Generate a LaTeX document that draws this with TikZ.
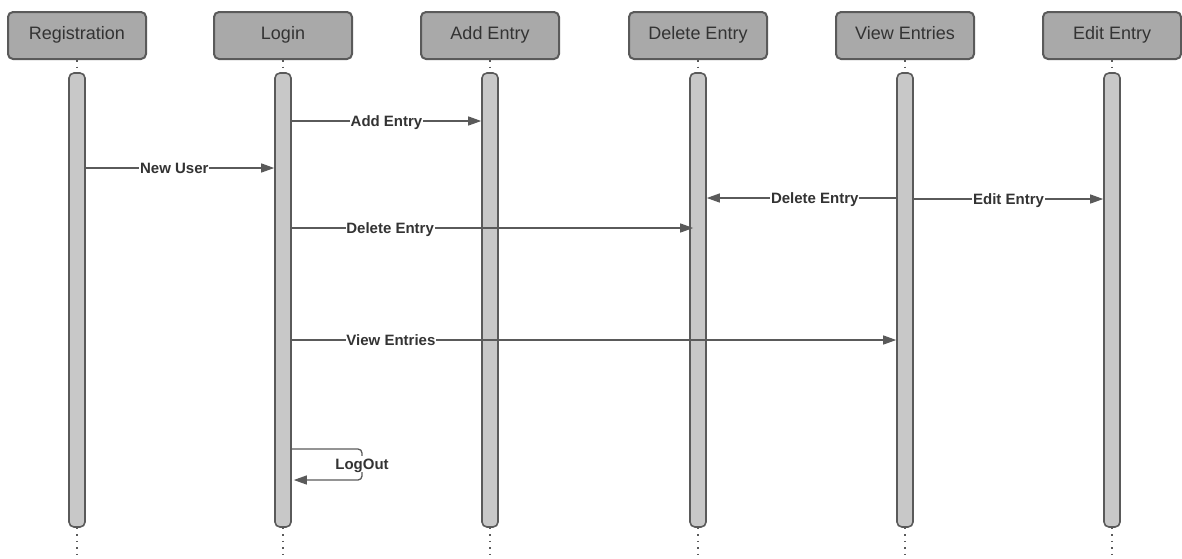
\documentclass[tikz,border=0pt]{standalone}
\usepackage{fontspec}
\setmainfont{Liberation Sans}
\usetikzlibrary{arrows.meta}
\definecolor{hdrfill}{HTML}{A9A9A9}
\definecolor{edge}{HTML}{5A5A5A}
\definecolor{barfill}{HTML}{C8C8C8}
\definecolor{txt}{HTML}{333333}
\tikzset{
  hdr/.style={draw=edge, line width=2pt, fill=hdrfill, rounded corners=5pt,
    minimum width=138pt, minimum height=47pt, inner sep=0pt,
    text height=12.5pt, text depth=3.8pt,
    font=\fontsize{18}{21}\selectfont, text=txt},
  actbar/.style={draw=edge, line width=1.6pt, fill=barfill, rounded corners=5pt,
    minimum width=16pt, minimum height=454pt, inner sep=0pt},
  life/.style={draw=edge, line width=1.2pt, dash pattern=on 1.5pt off 5pt},
  msg/.style={draw=edge, line width=1.3pt, -{Triangle[length=13pt,width=9pt]}},
  lbl/.style={fill=white, inner sep=0.8pt, text height=12.5pt, text depth=1.8pt,
    font=\bfseries\fontsize{15}{17}\selectfont, text=txt}
}
\begin{document}
\begin{tikzpicture}[x=1pt,y=-1pt]
\useasboundingbox (0,0) rectangle (1182,558);
\foreach \n/\x/\t in {reg/77/Registration, login/283/Login, add/490/Add Entry, del/698/Delete Entry, view/905/View Entries, edit/1112/Edit Entry}{
  \node[hdr] (\n) at (\x,35.5) {\t};
  \node[actbar] (b\n) at (\x,300) {};
  \coordinate (e\n) at (\x,558);
  \draw[life] (\n.south) -- (b\n.north);
  \draw[life] (b\n.south) -- (e\n);
}
% messages
\draw[msg] (blogin.east |- 0,121) -- node[lbl,pos=0.5]{Add Entry} (badd.west |- 0,121);
\draw[msg] (breg.east |- 0,168) -- node[lbl,pos=0.47]{New User} (blogin.west |- 0,168);
\draw[msg] (bview.west |- 0,198) -- node[lbl,pos=0.43]{Delete Entry} (bdel.east |- 0,198);
\draw[msg] (bview.east |- 0,199) -- node[lbl,pos=0.5]{Edit Entry} (bedit.west |- 0,199);
\draw[msg] (blogin.east |- 0,228) -- node[lbl,pos=0.245]{Delete Entry} ([xshift=4pt]bdel.west |- 0,228);
\draw[msg] (blogin.east |- 0,340) -- node[lbl,pos=0.164]{View Entries} (bview.west |- 0,340);
% self message
\coordinate (lo1) at (362,449);
\coordinate (lo2) at (362,480);
\draw[msg, rounded corners=4pt] (blogin.east |- 0,449) -- (lo1) -- (lo2) -- ([xshift=2pt]blogin.east |- 0,480);
\node[lbl] (lolbl) at (362,464) {LogOut};
\end{tikzpicture}
\end{document}
